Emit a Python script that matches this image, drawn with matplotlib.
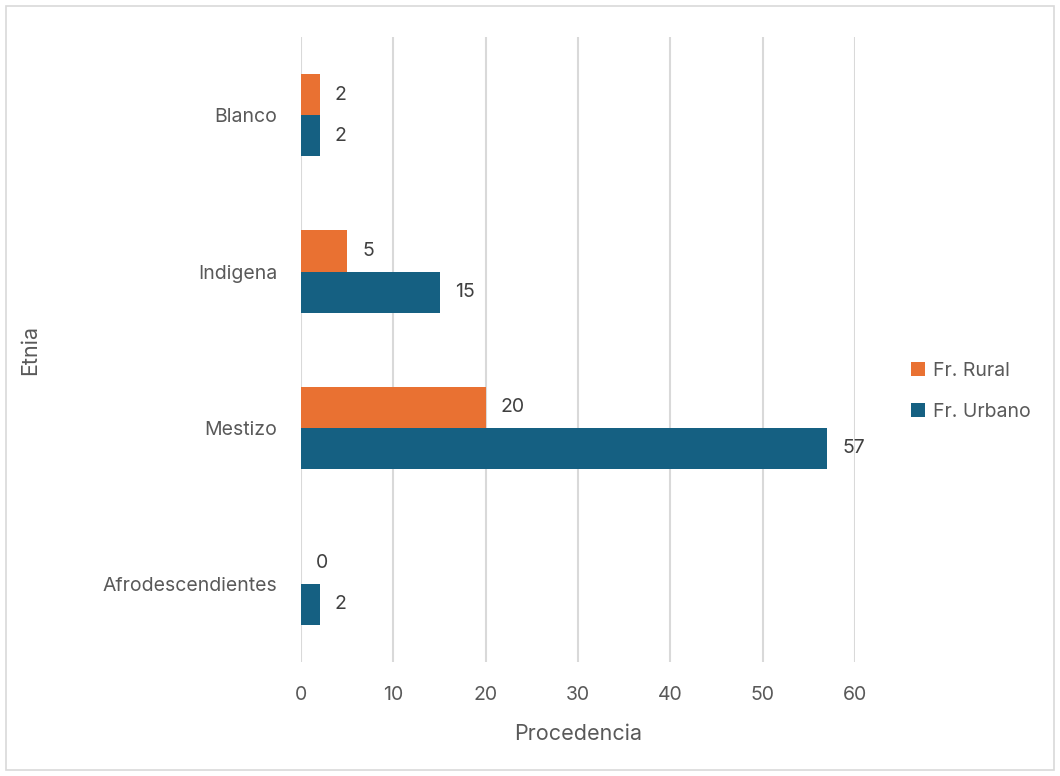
import matplotlib.pyplot as plt
from matplotlib.patches import Rectangle

# datos
etnias = ['Afrodescendientes', 'Mestizo', 'Indigena', 'Blanco']
rural = [0, 20, 5, 2]
urbano = [2, 57, 15, 2]
ticks_x = [0, 10, 20, 30, 40, 50, 60]

plt.rcParams['font.family'] = ['Inter', 'DejaVu Sans']
gris = '#595959'
naranja = '#E97132'
azul = '#156082'

fig = plt.figure(figsize=(10.6, 7.76), dpi=100)
ax = fig.add_axes([0.284, 0.147, 0.5226, 0.805])

# borde exterior del grafico
fig.patches.append(Rectangle((0.006, 0.008), 0.988, 0.984, transform=fig.transFigure,
                             fill=False, edgecolor='#D9D9D9', linewidth=1.2))

h = 0.263
y = list(range(len(etnias)))
b_u = ax.barh([i - h / 2 for i in y], urbano, height=h, color=azul, label='Fr. Urbano', zorder=3)
b_r = ax.barh([i + h / 2 for i in y], rural, height=h, color=naranja, label='Fr. Rural', zorder=3)

for barras in (b_u, b_r):
    ax.bar_label(barras, padding=11, fontsize=14, color='#404040')

ax.set_xlim(0, 60)
ax.set_ylim(-0.5, 3.5)
ax.set_xticks(ticks_x)
ax.set_yticks(y)
ax.set_yticklabels(etnias, va='center_baseline')
ax.tick_params(axis='both', length=0, labelsize=14, labelcolor=gris)
ax.tick_params(axis='x', pad=17)
ax.tick_params(axis='y', pad=17)
ax.grid(axis='x', color='#D9D9D9', linewidth=1.5, zorder=0)
for s in ax.spines.values():
    s.set_visible(False)

ax.set_xlabel('Procedencia', fontsize=15.5, color=gris, labelpad=15)
ax.set_ylabel('Etnia', fontsize=15.5, color=gris, labelpad=45)

handles = [b_r, b_u]
ax.legend(handles, ['Fr. Rural', 'Fr. Urbano'], loc='center left', bbox_to_anchor=(1.07, 0.433),
          frameon=False, fontsize=14, labelcolor=gris, handlelength=0.7, handleheight=0.7,
          handletextpad=0.4, labelspacing=1.2)

plt.savefig('out.png')
